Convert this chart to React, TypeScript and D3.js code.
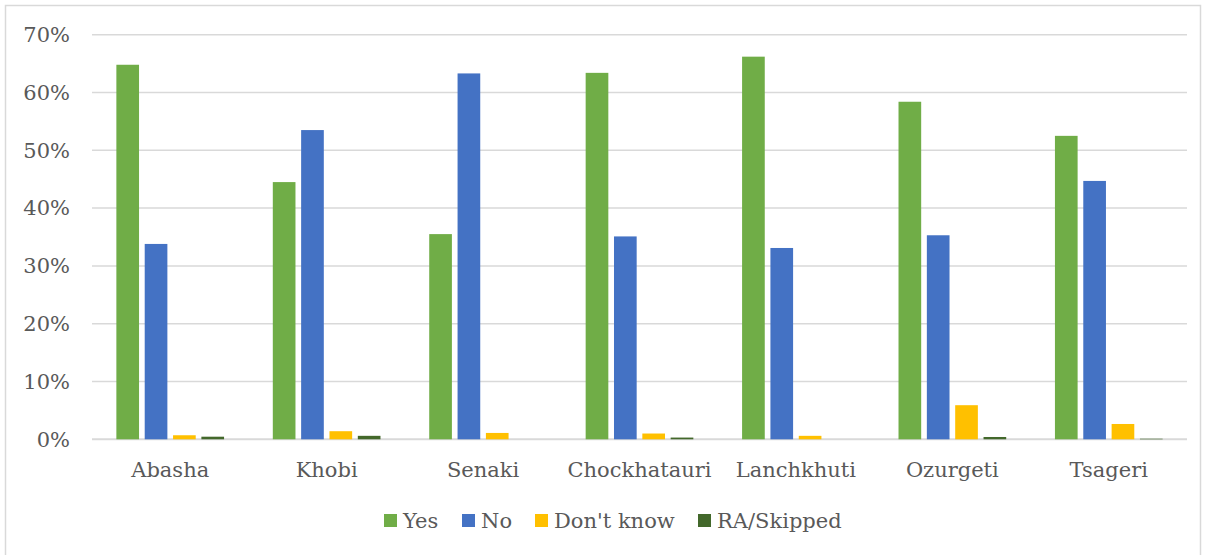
import React from "react";
import * as d3 from "d3";

const districts = ["Abasha", "Khobi", "Senaki", "Chockhatauri", "Lanchkhuti", "Ozurgeti", "Tsageri"];
const seriesNames = ["Yes", "No", "Don't know", "RA/Skipped"];
const yesValues = [64.8, 44.5, 35.5, 63.4, 66.2, 58.4, 52.5];
const noValues = [33.8, 53.5, 63.3, 35.1, 33.1, 35.3, 44.7];
const dontKnowValues = [0.7, 1.4, 1.1, 1.0, 0.6, 5.9, 2.65];
const skippedValues = [0.45, 0.6, 0, 0.3, 0, 0.4, 0.1];
const yTicks = [0, 10, 20, 30, 40, 50, 60, 70];
const colors = ["#70AD47", "#4472C4", "#FFC000", "#43682B"];

const W = 1207;
const H = 555;
const FONT = "Georgia, 'DejaVu Serif', serif";
const TEXT = "#595959";
const FS = 21;

export default function App() {
  const left = 92, right = 1187, top = 34.7, bottom = 439.3;
  const seriesValues = [yesValues, noValues, dontKnowValues, skippedValues];

  const x0 = d3.scaleBand<string>().domain(districts).range([left, right]).padding(0);
  const x1 = d3
    .scaleBand<string>()
    .domain(seriesNames)
    .range([0, x0.bandwidth()])
    .paddingInner(0.2)
    .paddingOuter(0.86);
  const y = d3.scaleLinear().domain([0, 70]).range([bottom, top]);

  const legendX = [384, 462, 535, 698];

  return (
    <svg width={W} height={H} style={{ position: "absolute", left: 0, top: 0, background: "#fff" }}>
      <rect x={5.5} y={5.5} width={1195} height={560} fill="#fff" stroke="#d9d9d9" strokeWidth={1.5} />
      {yTicks.map((t) => (
        <g key={t}>
          <line
            x1={left}
            x2={right}
            y1={y(t)}
            y2={y(t)}
            stroke="#d9d9d9"
            strokeWidth={t === 0 ? 2 : 1.5}
          />
          <text
            x={70}
            y={y(t)}
            dy="0.35em"
            textAnchor="end"
            fontFamily={FONT}
            fontSize={FS}
            fill={TEXT}
          >
            {`${t}%`}
          </text>
        </g>
      ))}
      {districts.map((d, i) => (
        <g key={d} transform={`translate(${x0(d)},0)`}>
          {seriesNames.map((s, j) => {
            const v = seriesValues[j][i];
            if (v <= 0) return null;
            return (
              <rect
                key={s}
                x={x1(s)}
                y={y(v)}
                width={x1.bandwidth()}
                height={y(0) - y(v)}
                fill={colors[j]}
              />
            );
          })}
          <text
            x={x0.bandwidth() / 2}
            y={477}
            textAnchor="middle"
            fontFamily={FONT}
            fontSize={FS}
            fill={TEXT}
          >
            {d}
          </text>
        </g>
      ))}
      {seriesNames.map((s, j) => (
        <g key={s} transform={`translate(${legendX[j]},514)`}>
          <rect width={13} height={13} fill={colors[j]} />
          <text x={19} y={6.5} dy="0.35em" fontFamily={FONT} fontSize={FS} fill={TEXT}>
            {s}
          </text>
        </g>
      ))}
    </svg>
  );
}
